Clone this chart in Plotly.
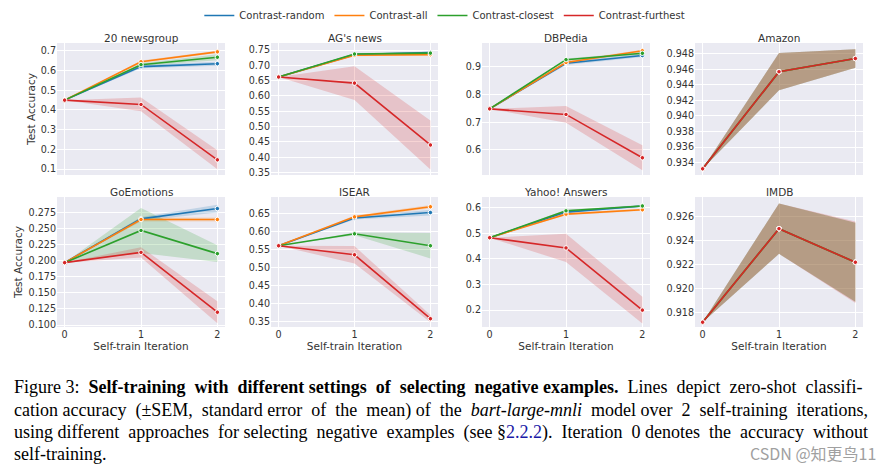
import re
import plotly.graph_objects as go

W, H = 895, 473

SERIES = ["Contrast-random", "Contrast-all", "Contrast-closest", "Contrast-furthest"]
COLORS = ["#1f77b4", "#ff7f0e", "#2ca02c", "#d62728"]
BAND_RGB = ["31,119,180", "255,127,14", "44,160,44", "214,39,40"]
ITER = [0, 1, 2]
XTICKS = [0, 1, 2]

DATASETS = ["20 newsgroup", "AG's news", "DBPedia", "Amazon",
            "GoEmotions", "ISEAR", "Yahoo! Answers", "IMDB"]

# means per series (random, all, closest, furthest) and SEM
NG_MEAN = [[0.450, 0.620, 0.635], [0.450, 0.645, 0.695], [0.450, 0.630, 0.668], [0.450, 0.428, 0.147]]
NG_SEM = [[0, 0.008, 0.010], [0, 0.006, 0.006], [0, 0.007, 0.015], [0, 0.035, 0.048]]

AG_MEAN = [[0.662, 0.735, 0.742], [0.662, 0.733, 0.735], [0.662, 0.737, 0.740], [0.662, 0.642, 0.440]]
AG_SEM = [[0, 0.003, 0.003], [0, 0.003, 0.003], [0, 0.003, 0.003], [0, 0.055, 0.080]]

DB_MEAN = [[0.748, 0.912, 0.940], [0.748, 0.915, 0.957], [0.748, 0.925, 0.948], [0.748, 0.728, 0.572]]
DB_SEM = [[0, 0.006, 0.005], [0, 0.005, 0.004], [0, 0.004, 0.004], [0, 0.030, 0.045]]

AM_MEAN = [[0.9332, 0.9457, 0.9474], [0.9332, 0.9457, 0.9474], [0.9332, 0.9457, 0.9474], [0.9332, 0.9457, 0.9474]]
AM_SEM = [[0, 0.0024, 0.0012], [0, 0.0024, 0.0012], [0, 0.0024, 0.0012], [0, 0.0024, 0.0012]]

GO_MEAN = [[0.197, 0.265, 0.281], [0.197, 0.264, 0.264], [0.197, 0.247, 0.211], [0.197, 0.213, 0.120]]
GO_SEM = [[0, 0.003, 0.006], [0, 0.003, 0.003], [0, 0.035, 0.013], [0, 0.008, 0.017]]

IS_MEAN = [[0.560, 0.637, 0.652], [0.560, 0.640, 0.668], [0.560, 0.593, 0.560], [0.560, 0.535, 0.358]]
IS_SEM = [[0, 0.004, 0.008], [0, 0.004, 0.005], [0, 0.004, 0.035], [0, 0.024, 0.010]]

YA_MEAN = [[0.483, 0.583, 0.607], [0.483, 0.575, 0.592], [0.483, 0.588, 0.607], [0.483, 0.443, 0.200]]
YA_SEM = [[0, 0.004, 0.004], [0, 0.004, 0.004], [0, 0.004, 0.004], [0, 0.055, 0.052]]

IM_MEAN = [[0.9172, 0.9250, 0.9222], [0.9172, 0.9250, 0.9222], [0.9172, 0.9250, 0.9222], [0.9172, 0.9250, 0.9222]]
IM_SEM = [[0, 0.0021, 0.0033], [0, 0.0021, 0.0033], [0, 0.0021, 0.0033], [0, 0.0021, 0.0034]]

MEANS = [NG_MEAN, AG_MEAN, DB_MEAN, AM_MEAN, GO_MEAN, IS_MEAN, YA_MEAN, IM_MEAN]
SEMS = [NG_SEM, AG_SEM, DB_SEM, AM_SEM, GO_SEM, IS_SEM, YA_SEM, IM_SEM]

Y_RANGES = [[0.07, 0.74], [0.342, 0.773], [0.51, 0.985], [0.9324, 0.9494],
            [0.097, 0.299], [0.335, 0.695], [0.134, 0.642], [0.9168, 0.92764]]
Y_DTICK = [0.1, 0.05, 0.1, 0.002, 0.025, 0.05, 0.1, 0.002]
Y_FMT = [".1f", ".2f", ".1f", ".3f", ".3f", ".2f", ".1f", ".3f"]

# panel pixel boxes (left, right) and (top, bottom)
COL_PX = [(57, 225), (271, 438), (482, 650), (695, 863)]
ROW_PX = [(43, 175), (197, 327)]

fig = go.Figure()
FONT = "DejaVu Sans"
TXT = "#333333"

layout = {}
for i, name in enumerate(DATASETS):
    r, c = divmod(i, 4)
    k = i + 1
    xa = "xaxis" if k == 1 else f"xaxis{k}"
    ya = "yaxis" if k == 1 else f"yaxis{k}"
    xref = "x" if k == 1 else f"x{k}"
    yref = "y" if k == 1 else f"y{k}"
    l, rr = COL_PX[c]
    t, b = ROW_PX[r]
    layout[xa] = dict(domain=[l / W, rr / W], anchor=yref, range=[-0.1, 2.1],
                      tickvals=XTICKS, showticklabels=(r == 1), showgrid=True,
                      gridcolor="white", gridwidth=1, zeroline=False, showline=False,
                      ticks="", tickfont=dict(family=FONT, size=9.6, color=TXT),
                      automargin=False,
                      title=dict(text="Self-train Iteration" if r == 1 else "",
                                 font=dict(family=FONT, size=10.5, color=TXT), standoff=2))
    layout[ya] = dict(domain=[(H - b) / H, (H - t) / H], anchor=xref, range=Y_RANGES[i],
                      dtick=Y_DTICK[i], tick0=0, tickformat=Y_FMT[i], showgrid=True,
                      gridcolor="white", gridwidth=1, zeroline=False, showline=False,
                      ticks="", tickfont=dict(family=FONT, size=9.6, color=TXT),
                      automargin=False,
                      title=dict(text="Test Accuracy" if c == 0 else "",
                                 font=dict(family=FONT, size=10.5, color=TXT), standoff=3))
    # bands
    for s in range(4):
        m = MEANS[i][s]
        e = SEMS[i][s]
        hi = [a + d for a, d in zip(m, e)]
        lo = [a - d for a, d in zip(m, e)]
        fig.add_trace(go.Scatter(x=ITER + ITER[::-1], y=hi + lo[::-1], fill="toself",
                                 fillcolor=f"rgba({BAND_RGB[s]},0.2)", line=dict(width=0),
                                 mode="lines", hoverinfo="skip", showlegend=False,
                                 xaxis=xref, yaxis=yref))
    for s in range(4):
        fig.add_trace(go.Scatter(x=ITER, y=MEANS[i][s], mode="lines+markers",
                                 line=dict(color=COLORS[s], width=1.6),
                                 marker=dict(size=4.5, color=COLORS[s],
                                             line=dict(color="white", width=1)),
                                 showlegend=False, xaxis=xref, yaxis=yref))
    fig.add_annotation(text=name, x=(l + rr) / 2 / W, y=(H - t + 5) / H, xref="paper",
                       yref="paper", xanchor="center", yanchor="middle", showarrow=False,
                       font=dict(family=FONT, size=10.5, color=TXT))

# legend entries
for s in range(4):
    fig.add_trace(go.Scatter(x=[None], y=[None], mode="lines", name=SERIES[s],
                             line=dict(color=COLORS[s], width=1.6), showlegend=True))

fig.update_layout(**layout)
fig.update_layout(
    width=W, height=H, margin=dict(l=0, r=0, t=0, b=0, autoexpand=False),
    paper_bgcolor="white", plot_bgcolor="#EAEAF2",
    legend=dict(orientation="h", x=0.497, xanchor="center", y=1 - 1 / H, yanchor="top",
                font=dict(family=FONT, size=10, color=TXT), itemwidth=30,
                bgcolor="rgba(0,0,0,0)"),
)

CAP_FONT = "Liberation Serif"
CAPTION = [
    "Figure 3: <b>Self-training with different settings of selecting negative examples.</b> Lines depict zero-shot classifi-",
    "cation accuracy (\u00b1SEM, standard error of the mean) of the <i>bart-large-mnli</i> model over 2 self-training iterations,",
    "using different approaches for selecting negative examples (see \u00a7<span style='color:#1a1aa6'>2.2.2</span>). Iteration 0 denotes the accuracy without",
    "self-training.",
]
CAP_EXTRA = [10, 11, 10, 0]   # extra non-breaking spaces to justify each line
CAP_Y = [387, 410, 432, 454]


def justify(line, n):
    parts = re.split(r" (?![^<]*>)", line)
    g = len(parts) - 1
    if n <= 0 or g <= 0:
        return line
    out = parts[0]
    for j in range(g):
        add = (j + 1) * n // g - j * n // g
        out += " " + "\u00a0" * add + parts[j + 1]
    return out


for line, n, yy in zip(CAPTION, CAP_EXTRA, CAP_Y):
    fig.add_annotation(text=justify(line, n), x=12 / W, y=1 - yy / H, xref="paper", yref="paper",
                       xanchor="left", yanchor="middle", showarrow=False,
                       font=dict(family=CAP_FONT, size=18, color="black"))
fig.add_annotation(text="CSDN @知更鸟11", x=878 / W, y=1 - 453 / H, xref="paper", yref="paper",
                   xanchor="right", yanchor="middle", showarrow=False,
                   font=dict(family="Noto Sans CJK SC", size=16, color="#a0a0a0"))

fig.write_html("out.html", config={"displayModeBar": False},
               post_script="document.body.style.margin='0px';")
